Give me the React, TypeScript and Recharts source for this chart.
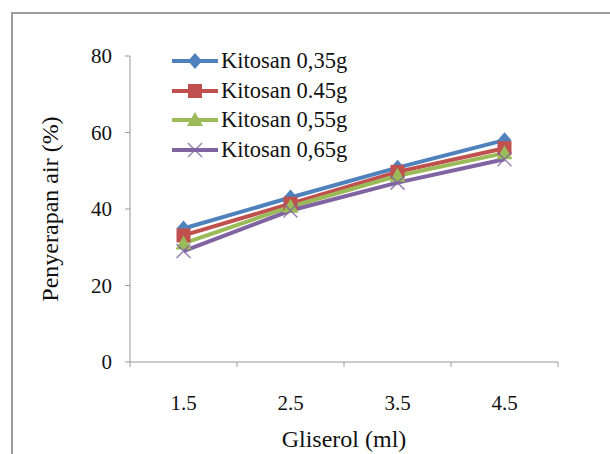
import React from 'react';
import {LineChart, Line, XAxis, YAxis, Legend} from 'recharts';

const gliserol = [1.5, 2.5, 3.5, 4.5];
const kitosan035 = [34.9, 43.0, 50.8, 58.0];
const kitosan045 = [33.1, 41.4, 49.7, 55.9];
const kitosan055 = [31.0, 40.6, 48.7, 54.6];
const kitosan065 = [29.0, 39.6, 46.9, 53.0];
const yTicks = [0, 20, 40, 60, 80];
const bandEdges = [1, 2, 3, 4, 5];

const series = [
    {key: 'k035', name: 'Kitosan 0,35g', color: '#4F81BD', shape: 'diamond'},
    {key: 'k045', name: 'Kitosan 0.45g', color: '#C0504D', shape: 'square'},
    {key: 'k055', name: 'Kitosan 0,55g', color: '#9BBB59', shape: 'triangle'},
    {key: 'k065', name: 'Kitosan 0,65g', color: '#8064A2', shape: 'cross'},
];

const data = gliserol.map((g, i) => ({
    g,
    k035: kitosan035[i],
    k045: kitosan045[i],
    k055: kitosan055[i],
    k065: kitosan065[i],
}));

const FONT = '"Liberation Serif", "Times New Roman", serif';

const Marker = ({cx, cy, color, shape}: any) => {
    if (cx == null || cy == null) return null;
    if (shape === 'diamond') {
        return <path d={`M${cx},${cy - 8} L${cx + 7},${cy} L${cx},${cy + 8} L${cx - 7},${cy} Z`} fill={color} />;
    }
    if (shape === 'square') {
        return <rect x={cx - 7} y={cy - 7} width={14} height={14} fill={color} />;
    }
    if (shape === 'triangle') {
        return <path d={`M${cx},${cy - 8} L${cx + 8},${cy + 6} L${cx - 8},${cy + 6} Z`} fill={color} />;
    }
    return (
        <g stroke={color} strokeWidth={1.5} opacity={0.8}>
            <line x1={cx - 7} y1={cy - 7} x2={cx + 7} y2={cy + 7} />
            <line x1={cx - 7} y1={cy + 7} x2={cx + 7} y2={cy - 7} />
        </g>
    );
};

const LegendBox = () => (
    <div style={{fontFamily: FONT, fontSize: 22.5, color: '#111', whiteSpace: 'nowrap'}}>
        {series.map((s) => (
            <div key={s.key} style={{display: 'flex', alignItems: 'center', height: 29.7}}>
                <svg width={50} height={20}>
                    <line x1={2} y1={10} x2={48} y2={10} stroke={s.color} strokeWidth={4} />
                    <Marker cx={25} cy={10} color={s.color} shape={s.shape} />
                </svg>
                <span style={{marginLeft: 1}}>{s.name}</span>
            </div>
        ))}
    </div>
);

const YTitle = ({viewBox}: any) => {
    const x = 52;
    const y = viewBox.y + viewBox.height / 2;
    return (
        <text x={x} y={y} transform={`rotate(-90, ${x}, ${y})`} textAnchor="middle" dominantBaseline="middle"
              fontFamily={FONT} fontSize={24} fill="#111">
            Penyerapan air (%)
        </text>
    );
};

const App = () => {
    return (
        <div style={{position: 'fixed', left: 0, top: 0, width: 610, height: 454, background: '#fff'}}>
            <div style={{position: 'absolute', left: 11, top: 12, width: 600, height: 450,
                borderLeft: '2px solid #9c9c9c', borderTop: '2px solid #9c9c9c'}} />
            <LineChart width={610} height={454} data={data}
                       margin={{top: 56, right: 52, bottom: 0, left: 0}}
                       style={{position: 'absolute', left: 0, top: 0}}>
                <XAxis xAxisId="a" type="number" dataKey="g" domain={[1, 5]} ticks={bandEdges}
                       tickFormatter={() => ''} tickSize={5} height={1} stroke="#999" />
                <XAxis xAxisId="b" type="number" dataKey="g" domain={[1, 5]} ticks={gliserol} height={91}
                       axisLine={false} tickLine={false} tickSize={0} tickMargin={32}
                       tick={{fill: '#111', fontFamily: FONT, fontSize: 21}}
                       tickFormatter={(v) => v.toFixed(1)}
                       label={{value: 'Gliserol (ml)', position: 'insideBottom', offset: 7,
                           fill: '#111', fontFamily: FONT, fontSize: 24}} />
                <YAxis domain={[0, 80]} ticks={yTicks} width={130} stroke="#999" tickSize={5} tickMargin={13}
                       tick={{fill: '#111', fontFamily: FONT, fontSize: 21}}
                       label={<YTitle />} />
                <Legend layout="vertical" align="center" verticalAlign="middle" content={<LegendBox />}
                        wrapperStyle={{position: 'absolute', left: 170, top: 46, width: 'auto'}} />
                {series.map((s) => (
                    <Line key={s.key} xAxisId="b" dataKey={s.key} name={s.name} stroke={s.color} strokeWidth={4}
                          isAnimationActive={false}
                          dot={(p: any) => <Marker key={`${s.key}-${p.index}`} cx={p.cx} cy={p.cy} color={s.color} shape={s.shape} />} />
                ))}
            </LineChart>
        </div>
    );
};

export default App;
